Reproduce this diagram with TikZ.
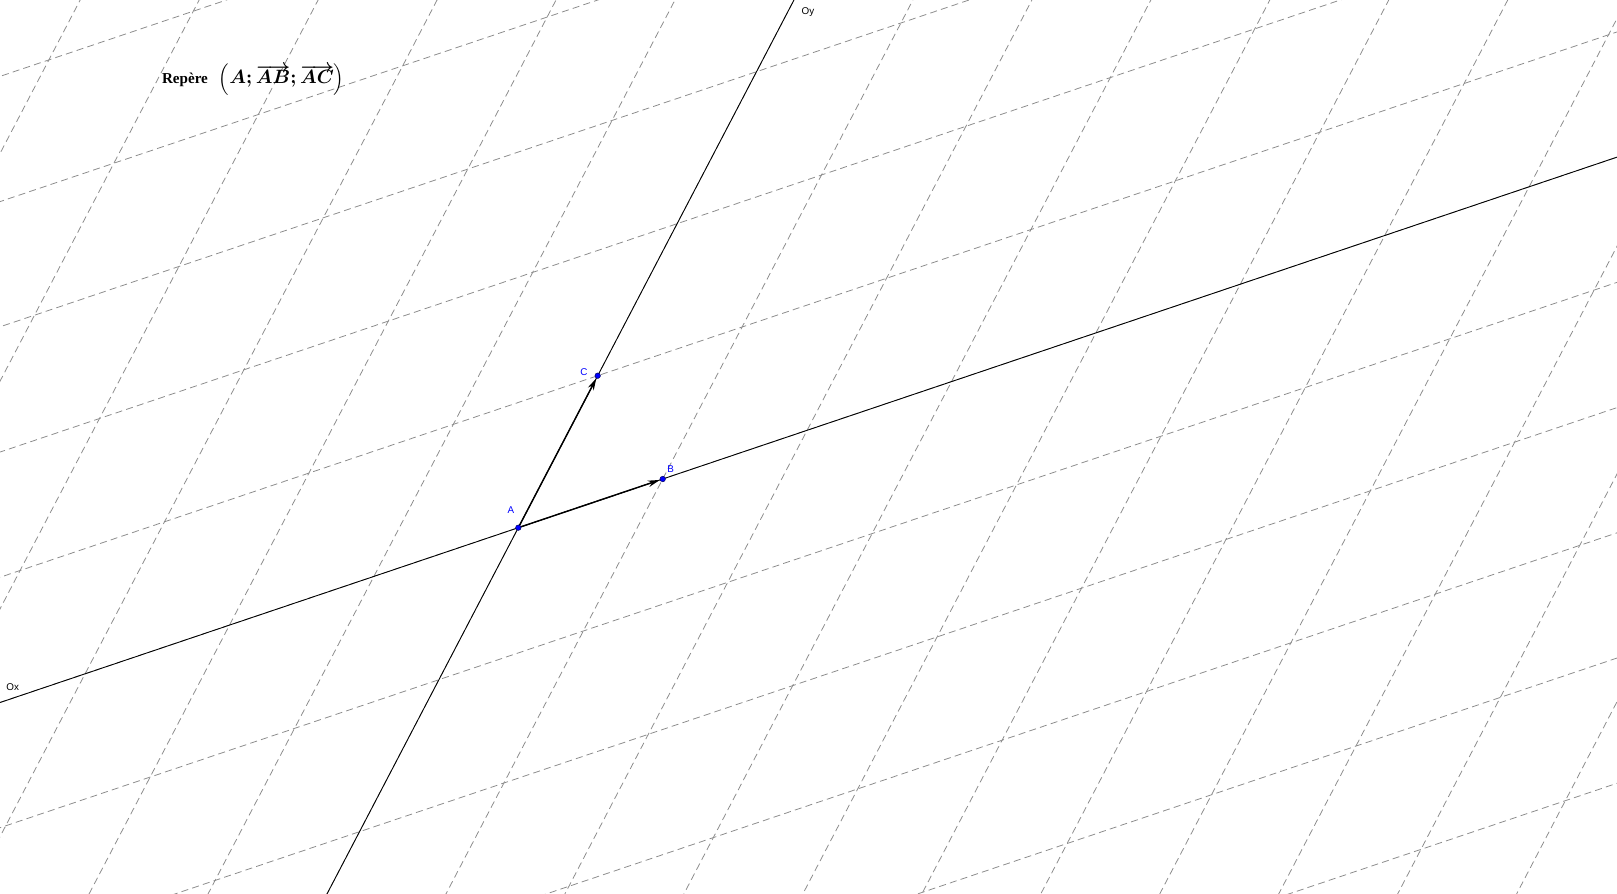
\documentclass[tikz,border=0pt]{standalone}
\usepackage{fontspec}
\setmainfont{Liberation Serif}
\newfontfamily\labelfont{Liberation Sans}
\usetikzlibrary{arrows.meta}

\tikzset{
	gridline/.style={line width=0.45pt, color=black!45, dash pattern=on 4pt off 2.4pt},
	axis/.style={line width=0.5pt, black},
	vec/.style={line width=0.8pt, black, -{Stealth[length=0.24cm,width=0.13cm]}},
	pt/.style={circle, fill=blue, draw=blue!40!black, line width=0.3pt, inner sep=0pt, minimum size=0.11cm},
	ptlabel/.style={text=blue, font=\fontsize{5.6}{6}\labelfont, inner sep=0pt},
	axislabel/.style={text=black, font=\fontsize{5.6}{6}\labelfont, inner sep=0pt}
}

\begin{document}
\begin{tikzpicture}
	\useasboundingbox (0,0) rectangle (32.34,17.86);
	\begin{scope}
	\clip (0,0) rectangle (32.34,17.86);
	% the frame (A; AB, AC)
	\begin{scope}[shift={(10.366,7.306)}, x={(2.888cm,0.974cm)}, y={(1.588cm,3.04cm)}]
		% draw the dashed grid
		\foreach \i in {-7,...,11} {     % parallel to AC
			\draw[gridline] (\i,-12) -- (\i,12);
		}
		\foreach \j in {-6,...,6} {      % parallel to AB
			\draw[gridline] (-14,\j) -- (14,\j);
		}
		% axes
		\coordinate (oxstart) at (-10,0);
		\coordinate (oxend) at (10,0);
		\coordinate (oystart) at (0,-10);
		\coordinate (oyend) at (0,10);
		\draw[axis] (oxstart) -- (oxend);
		\draw[axis] (oystart) -- (oyend);
		% the points
		\node[pt] (A) at (0,0) {};
		\node[pt] (B) at (1,0) {};
		\node[pt] (C) at (0,1) {};
	\end{scope}
	\end{scope}
	
	% the vectors
	\draw[vec] (A) -- (B);
	\draw[vec] (A) -- (C);
	
	% draw labels
	\node[ptlabel] (labA) at (10.22,7.66) {A};
	\node[ptlabel] (labB) at (13.414,8.48) {B};
	\node[ptlabel] (labC) at (11.68,10.426) {C};
	\node[axislabel] (labOx) at (0.254,4.126) {Ox};
	\node[axislabel] (labOy) at (16.16,17.62) {Oy};
	
	% title
	\node[anchor=base west, inner sep=0pt, font=\fontsize{8.6}{10}\selectfont] (title) at (3.234,16.18)
		{\textbf{Repère}\hspace{0.22cm}{\fontsize{10.5}{12}\selectfont\boldmath$\Bigl(A;\overrightarrow{AB};\overrightarrow{AC}\Bigr)$}};
\end{tikzpicture}
\end{document}
